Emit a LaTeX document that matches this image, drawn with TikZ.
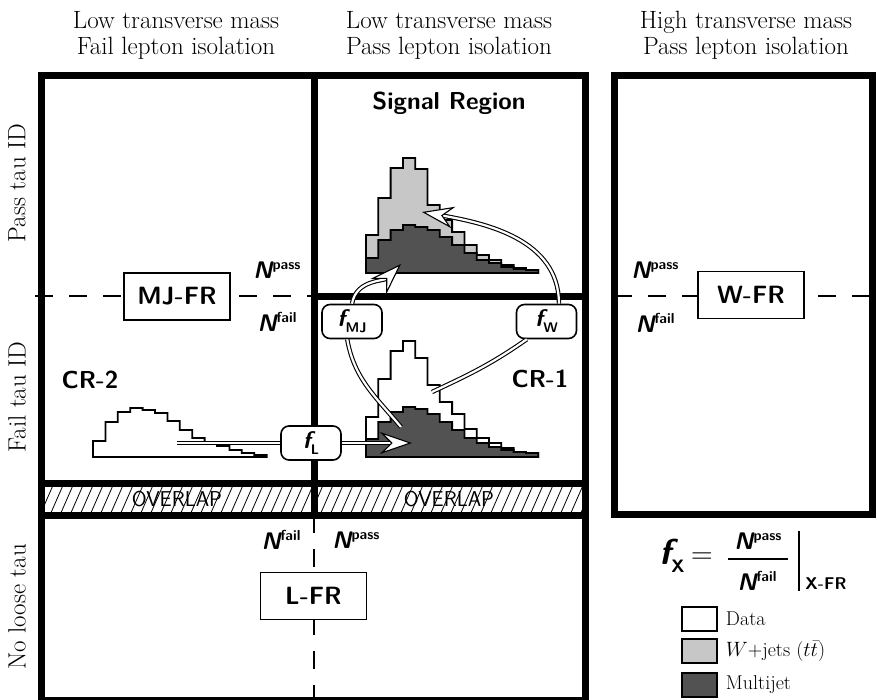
\documentclass[tikz,border=0pt]{standalone}
\usepackage{amsmath}
\usepackage{tikz}
\usetikzlibrary{arrows.meta,positioning}
\definecolor{wjgrey}{gray}{0.78}
\definecolor{mjgrey}{gray}{0.32}
\newcommand{\Nlab}[1]{{\fontsize{24}{26}\selectfont\sffamily\bfseries\slshape N}\raisebox{8.5pt}{\fontsize{14.5}{15}\selectfont\sffamily\bfseries #1}}
\newcommand{\fsub}[1]{{\fontsize{24}{26}\selectfont\sffamily\bfseries\slshape f}\raisebox{-6pt}{\fontsize{14}{14}\selectfont\sffamily\bfseries #1}}
\tikzset{
  frame/.style={line width=7pt},
  split/.style={line width=1.5pt, dash pattern=on 18pt off 16pt},
  header/.style={font={\fontsize{25}{26}\selectfont}, align=center},
  side/.style={font={\fontsize{25}{26}\selectfont}, rotate=90},
  region/.style={font={\fontsize{24.5}{28}\selectfont\sffamily\bfseries}},
  frbox/.style={draw, line width=1.5pt, fill=white, minimum width=106pt, minimum height=47pt, font={\fontsize{25}{28}\selectfont\sffamily\bfseries}},
  fbox/.style={draw, line width=1.6pt, fill=white, rounded corners=8pt, minimum width=60pt, minimum height=34pt, inner sep=0pt},
  histo/.style={line width=1.8pt},
  dbl/.style={double=white, double distance=2.2pt, line width=1.1pt},
  dblarrow/.style={dbl, -{Stealth[length=32pt, width=22pt, inset=11pt, fill=white]}},
  legbox/.style={draw, line width=1.5pt, minimum width=35pt, minimum height=24pt, inner sep=0pt},
  legtext/.style={font={\fontsize{20}{22}\selectfont}, inner sep=2pt}
}

\begin{document}
\begin{tikzpicture}[x=1pt,y=1pt]
\useasboundingbox (0,0) rectangle (877,-699);
% headers
\node[header] (hmj) at (176,-35) {Low transverse mass\\Fail lepton isolation};
\node[header] (hsr) at (449,-35) {Low transverse mass\\Pass lepton isolation};
\node[header] (hw) at (746,-35) {High transverse mass\\Pass lepton isolation};
\node[side] (spass) at (17,-183) {Pass tau ID};
\node[side] (sfail) at (17,-397) {Fail tau ID};
\node[side] (snone) at (17,-607) {No loose tau};
% overlap hatching
\begin{scope}
\clip (41,-483) rectangle (585,-515);
\foreach \x in {20,30,...,590}
  \draw[line width=0.8pt] (\x,-515) -- (\x+14,-483);
\end{scope}
% region frames
\draw[split] (35,-296) -- (314,-296);
\draw[split] (614,-296) -- (877,-296);
\draw[split] (314,-515) -- (314,-700);
\draw[frame] (41,-75) rectangle (585,-700);
\draw[frame] (314,-75) -- (314,-515);
\draw[frame] (314,-296) -- (585,-296);
\draw[frame] (41,-483) -- (585,-483);
\draw[frame] (41,-515) -- (585,-515);
\draw[frame] (614,-75) rectangle (872,-514);
% signal region histograms
\draw[histo, fill=wjgrey] (366,-273) \foreach \h [count=\i from 0] in {38,75,105,115,104,68,53,41,28,18,13,8,5,3} { -- (366+12.3*\i,-273+\h) -- (378.3+12.3*\i,-273+\h) } -- (538.2,-273) -- cycle;
\draw[histo, fill=mjgrey] (366,-273) \foreach \h [count=\i from 0] in {15,33,43,48,46,43,36,28,20,13,10,6,4,3} { -- (366+12.3*\i,-273+\h) -- (378.3+12.3*\i,-273+\h) } -- (538.2,-273) -- cycle;
% CR-1 histograms
\draw[histo, fill=white] (366,-457) \foreach \h [count=\i from 0] in {40,78,106,116,99,72,55,43,28,19,14,9,5,4} { -- (366+12.3*\i,-457+\h) -- (378.3+12.3*\i,-457+\h) } -- (538.2,-457) -- cycle;
\draw[histo, fill=mjgrey] (366,-457) \foreach \h [count=\i from 0] in {18,35,45,50,48,43,35,27,19,14,10,7,5,4} { -- (366+12.3*\i,-457+\h) -- (378.3+12.3*\i,-457+\h) } -- (538.2,-457) -- cycle;
% CR-2 histogram
\draw[histo, fill=white] (93,-457) \foreach \h [count=\i from 0] in {16,35,45,49,47,44,36,27,19,14,11,7,4,2} { -- (93+12.4*\i,-457+\h) -- (105.4+12.4*\i,-457+\h) } -- (266.6,-457) -- cycle;
% region labels
\node[region] (sr) at (449,-103) {Signal Region};
\node[region] (crtwo) at (90,-380) {CR-2};
\node[region] (crone) at (540,-379) {CR-1};
% fake-rate regions
\node[frbox] (mjfr) at (177,-296.5) {MJ-FR};
\node[frbox] (wfr) at (751,-295) {W-FR};
\node[frbox] (lfr) at (313.5,-596) {L-FR};
\node (mjpass) at (277,-270) {\Nlab{pass}};
\node (mjfail) at (277,-322) {\Nlab{fail}};
\node (wpass) at (655,-270) {\Nlab{pass}};
\node (wfail) at (655,-323) {\Nlab{fail}};
\node (lfail) at (281,-540) {\Nlab{fail}};
\node (lpass) at (356,-540) {\Nlab{pass}};
\node[font={\fontsize{21.5}{24}\selectfont\sffamily}] (ovl) at (177,-499) {OVERLAP};
\node[font={\fontsize{21.5}{24}\selectfont\sffamily}] (ovr) at (449,-499) {OVERLAP};
% fake factors
\coordinate (ltail) at (177,-443);
\coordinate (lhead) at (412,-443);
\coordinate (mjtail) at (401,-427);
\coordinate (mjhead) at (401,-264);
\coordinate (wtail) at (432,-392);
\coordinate (whead) at (422,-212);
\node[fbox] (fl) at (311,-443) {\fsub{L}};
\node[fbox] (fmj) at (352,-321.5) {\fsub{MJ}};
\node[fbox] (fw) at (546.5,-321.5) {\fsub{W}};
\draw[dbl] (ltail) -- (fl.west);
\draw[dblarrow] (fl.east) -- (lhead);
\draw[dbl] (mjtail) to[out=130,in=-80] (fmj.255);
\draw[dblarrow] (fmj.north) to[out=80,in=225] (mjhead);
\draw[dbl] (wtail) to[out=25,in=-145] (fw.222);
\draw[dblarrow] (fw.55) to[out=90,in=-10] (whead);
% formula
\node (fx) at (672,-556) {{\fontsize{36}{38}\selectfont\sffamily\bfseries\slshape f}\raisebox{-8pt}{\fontsize{18}{18}\selectfont\sffamily\bfseries X}};
\node (eq) at (702,-558) {\fontsize{30}{30}\selectfont=};
\node (num) at (758,-541) {\Nlab{pass}};
\node (den) at (757,-581) {\Nlab{fail}};
\draw[line width=2.5pt] (728,-559) -- (788,-559);
\draw[line width=2pt] (799,-531) -- (799,-591);
\node[font={\fontsize{17}{18}\selectfont\sffamily\bfseries}] (xfr) at (826,-584) {X-FR};
% legend
\node[legbox, fill=white] (ldata) at (699.5,-619) {};
\node[legbox, fill=wjgrey] (lwj) at (699.5,-651) {};
\node[legbox, fill=mjgrey] (lmj) at (699.5,-685) {};
\node[legtext, right=6pt of ldata] (tdata) {Data};
\node[legtext, right=6pt of lwj] (twj) {$W$+jets ($t\bar{t}$)};
\node[legtext, right=6pt of lmj] (tmj) {Multijet};
\end{tikzpicture}
\end{document}
